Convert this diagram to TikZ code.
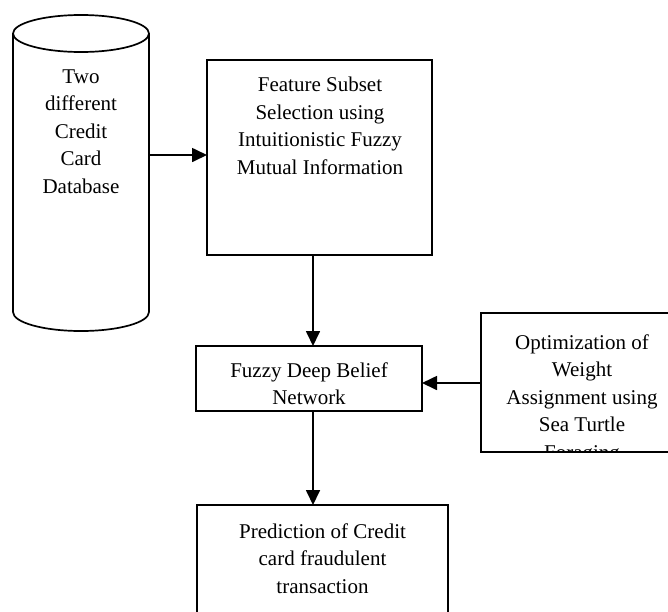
\documentclass[tikz,border=0pt]{standalone}
\usepackage{fontspec}
\setmainfont{Liberation Serif}
\usetikzlibrary{arrows.meta}
\begin{document}
\begin{tikzpicture}[x=1pt,y=-1pt,
  box/.style={draw, line width=1.7pt, rectangle, inner sep=0pt, outer sep=0pt},
  txt/.style={font=\fontsize{21}{27.5}\selectfont, align=center, inner sep=0pt, anchor=north},
  arr/.style={line width=1.7pt, -{Triangle[length=15pt,width=14pt]}},
  line width=1.7pt]
\useasboundingbox (0,0) rectangle (668,611);
\clip (0,0) rectangle (668,611);
% cylinder
\draw (81,33.5) ellipse [x radius=68, y radius=18.5];
\draw (13,33.5) -- (13,312) arc[start angle=180, end angle=0, x radius=68, y radius=19] -- (149,33.5);
\node[txt] (db) at (81,68.5) {Two\\different\\Credit\\Card\\Database};
\coordinate (dbR) at (149,155);
% boxes
\node[box, minimum width=225pt, minimum height=195pt] (feat) at (319.5,157.5) {};
\node[txt] (featT) at (320,76.5) {Feature Subset\\Selection using\\Intuitionistic Fuzzy\\Mutual Information};
\node[box, minimum width=226pt, minimum height=65pt] (dbn) at (309,378.5) {};
\node[txt] (dbnT) at (309,361.5) {Fuzzy Deep Belief\\Network};
\node[box, minimum width=202pt, minimum height=139pt] (opt) at (582,382.5) {};
\begin{scope}
  \clip (opt.south west) rectangle (opt.north east);
  \node[txt] (optT) at (582,333.5) {Optimization of\\Weight\\Assignment using\\Sea Turtle\\Foraging};
\end{scope}
\node[box, minimum width=251pt, minimum height=120pt] (pred) at (322.5,565) {};
\node[txt] (predT) at (322.5,522.5) {Prediction of Credit\\card fraudulent\\transaction};
% connectors
\coordinate (c1) at (313,0);
\coordinate (c2) at (0,383);
\draw[arr] (dbR) -- (dbR -| feat.west);
\draw[arr] (feat.south -| c1) -- (dbn.north -| c1);
\draw[arr] (opt.west |- c2) -- (dbn.east |- c2);
\draw[arr] (dbn.south -| c1) -- (pred.north -| c1);
\end{tikzpicture}
\end{document}
